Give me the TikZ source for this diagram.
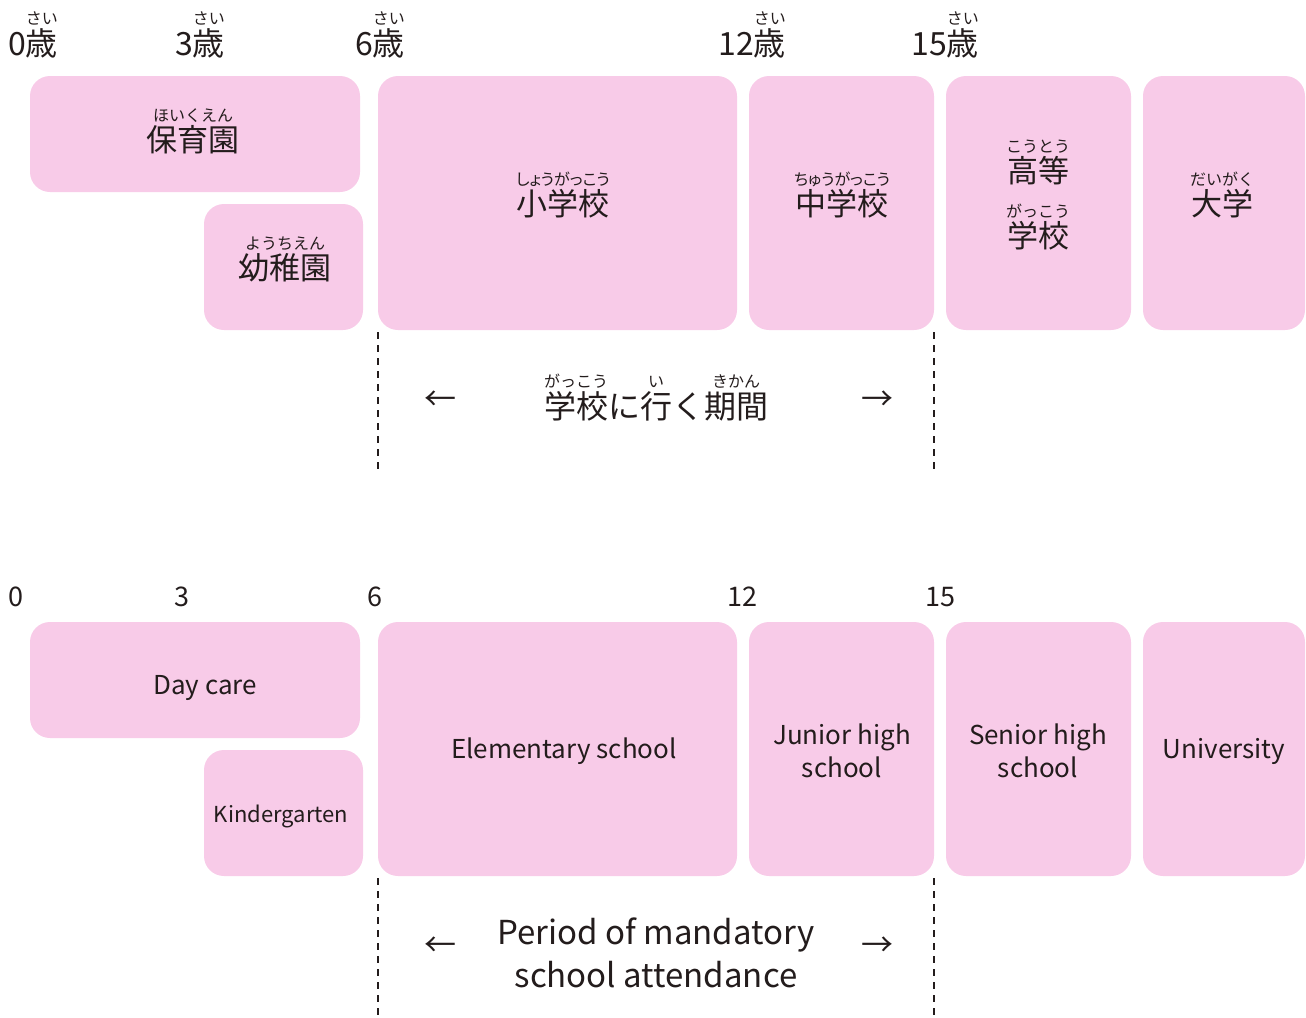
\documentclass[tikz,border=0pt]{standalone}
\usepackage{fontspec}
\setmainfont{Noto Sans CJK JP}
\definecolor{boxpink}{RGB}{248,203,232}
\definecolor{ink}{RGB}{35,28,28}
\newcommand\rbfont{\fontsize{16}{16}\selectfont}
\newcommand\rb[2]{\shortstack{{\rbfont #2}\\#1}}
\newcommand\rbn[2]{\shortstack{{\rbfont\addfontfeature{RawFeature=+palt}#2}\\#1}}
\tikzset{
  box/.style={fill=boxpink,rounded corners=20pt,inner sep=0pt},
  jlab/.style={text=ink,font=\fontsize{31}{36}\selectfont,align=center,inner sep=0pt},
  elab/.style={text=ink,font=\fontsize{26}{33}\selectfont,align=center,inner sep=0pt},
  age/.style={text=ink,font=\fontsize{32}{32}\selectfont,anchor=base,inner sep=0pt},
  num/.style={text=ink,font=\fontsize{27}{27}\selectfont,anchor=base,inner sep=0pt},
  span/.style={text=ink,font=\fontsize{32}{43}\selectfont,align=center,inner sep=0pt},
  arr/.style={text=ink,font=\fontsize{32}{32}\selectfont,inner sep=0pt},
  guide/.style={ink,line width=1.8pt,dash pattern=on 7pt off 6pt}
}
\begin{document}
\begin{tikzpicture}[x=1pt,y=-1pt]
  \useasboundingbox (0,0) rectangle (1306,1017);
  % Japanese chart
  \node[age] (a0) at (33,55) {0\rb{歳}{さい}};
  \node[age] (a3) at (200,55) {3\rb{歳}{さい}};
  \node[age] (a6) at (380,55) {6\rb{歳}{さい}};
  \node[age] (a12) at (752,55) {12\rb{歳}{さい}};
  \node[age] (a15) at (945,55) {15\rb{歳}{さい}};
  \node[box,minimum width=330,minimum height=116] (hoiku) at (195,134) {};
  \node[box,minimum width=159,minimum height=126] (yochi) at (283.5,267) {};
  \node[box,minimum width=359,minimum height=254] (sho) at (557.5,203) {};
  \node[box,minimum width=185,minimum height=254] (chu) at (841.5,203) {};
  \node[box,minimum width=185,minimum height=254] (koko) at (1038.5,203) {};
  \node[box,minimum width=162,minimum height=254] (dai) at (1224,203) {};
  \node[jlab] (hoikut) at (193,131) {\rb{保育園}{ほいくえん}};
  \node[jlab] (yochit) at (285,259) {\rb{幼稚園}{ようちえん}};
  \node[jlab] (shot) at (563,195) {\rbn{小学校}{しょうがっこう}};
  \node[jlab] (chut) at (842,195) {\rbn{中学校}{ちゅうがっこう}};
  \node[jlab] (kokot) at (1038,195) {\rb{高等}{こうとう}\\[18pt]\rb{学校}{がっこう}};
  \node[jlab] (dait) at (1222,195) {\rb{大学}{だいがく}};
  \draw[guide] (sho.south west) ++(0,2) -- ++(0,138);
  \draw[guide] (chu.south east) ++(0,2) -- ++(0,138);
  \node[arr] (la) at (440,401) {←};
  \node[arr] (ra) at (877,401) {→};
  \node[span,anchor=base] (kikan) at (656,418) {\rb{学校}{がっこう}に\rb{行}{い}く\rb{期間}{きかん}};
  % English chart
  \node[num] (n0) at (16,606) {0};
  \node[num] (n3) at (182,606) {3};
  \node[num] (n6) at (375,606) {6};
  \node[num] (n12) at (742,606) {12};
  \node[num] (n15) at (940,606) {15};
  \node[box,minimum width=330,minimum height=116] (care) at (195,680) {};
  \node[box,minimum width=159,minimum height=126] (kinder) at (283.5,813) {};
  \node[box,minimum width=359,minimum height=254] (elem) at (557.5,749) {};
  \node[box,minimum width=185,minimum height=254] (junior) at (841.5,749) {};
  \node[box,minimum width=185,minimum height=254] (senior) at (1038.5,749) {};
  \node[box,minimum width=162,minimum height=254] (univ) at (1224,749) {};
  \node[elab] (caret) at (205,688) {Day care};
  \node[elab,font=\fontsize{22}{26}\selectfont] (kindert) at (281,816) {Kindergarten};
  \node[elab] (elemt) at (564,751) {Elementary school};
  \node[elab] (juniort) at (842,751) {Junior high\\school};
  \node[elab] (seniort) at (1038,751) {Senior high\\school};
  \node[elab] (univt) at (1224,751) {University};
  \draw[guide] (elem.south west) ++(0,2) -- ++(0,139);
  \draw[guide] (junior.south east) ++(0,2) -- ++(0,139);
  \node[arr] (lb) at (440,947) {←};
  \node[arr] (rb) at (877,947) {→};
  \node[span,font=\fontsize{33}{43}\selectfont] (period) at (656,953) {Period of mandatory\\school attendance};
\end{tikzpicture}
\end{document}
